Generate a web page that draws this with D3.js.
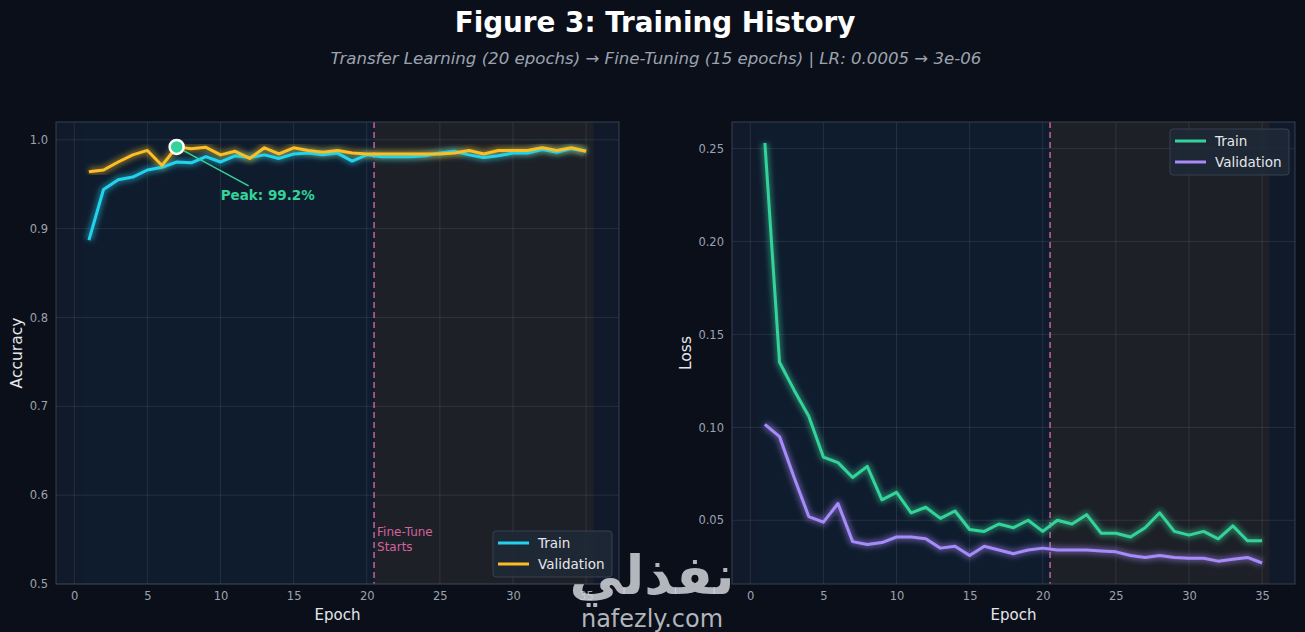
<!DOCTYPE html>
<html><head><meta charset="utf-8">
<script src="https://cdn.jsdelivr.net/npm/d3@7/dist/d3.min.js"></script>
<style>
html,body{margin:0;padding:0;background:#0b0f19;}
svg{display:block;font-family:"DejaVu Sans",sans-serif;}
</style></head>
<body>
<svg id="chart" width="1305" height="632"></svg>
<script>
// ---------- DATA ----------
const epochs = d3.range(1, 36);
const trainAcc = [0.887,0.944,0.955,0.958,0.966,0.969,0.975,0.974,0.981,0.975,
                  0.982,0.980,0.983,0.979,0.984,0.985,0.983,0.985,0.976,0.983,
                  0.981,0.981,0.981,0.982,0.985,0.987,0.983,0.980,0.982,0.985,
                  0.985,0.989,0.986,0.990,0.987];
const valAcc   = [0.964,0.966,0.975,0.983,0.988,0.971,0.992,0.990,0.9915,0.983,
                  0.987,0.979,0.991,0.984,0.991,0.988,0.986,0.988,0.985,0.984,
                  0.984,0.984,0.984,0.984,0.984,0.985,0.988,0.984,0.988,0.988,
                  0.988,0.991,0.988,0.991,0.987];
const trainLoss = [0.253,0.135,0.120,0.106,0.084,0.081,0.073,0.079,0.061,0.065,
                   0.054,0.057,0.051,0.055,0.045,0.044,0.048,0.046,0.050,0.044,
                   0.050,0.048,0.053,0.043,0.043,0.041,0.046,0.054,0.044,0.042,
                   0.044,0.040,0.047,0.039,0.039];
const valLoss   = [0.1016,0.095,0.073,0.052,0.049,0.059,0.0385,0.037,0.038,0.041,
                   0.041,0.040,0.035,0.036,0.031,0.036,0.034,0.032,0.034,0.035,
                   0.034,0.034,0.034,0.0335,0.033,0.031,0.030,0.031,0.030,0.0296,
                   0.0296,0.028,0.029,0.030,0.027];
const xTicks = [0,5,10,15,20,25,30,35];
const accTicks = [0.5,0.6,0.7,0.8,0.9,1.0];
const lossTicks = [0.05,0.10,0.15,0.20,0.25];
const fineTuneAt = 20.5;
const titleText = "Figure 3: Training History";
const subtitleText = "Transfer Learning (20 epochs) \u2192 Fine-Tuning (15 epochs) | LR: 0.0005 \u2192 3e-06";
const seriesNames = ["Train","Validation"];
const accColors = ["#22d3ee","#fbbf24"];
const lossColors = ["#34d399","#a78bfa"];

// ---------- SETUP ----------
const svg = d3.select("#chart");
const W = 1305, H = 632;
svg.append("rect").attr("width",W).attr("height",H).attr("fill","#0b0f19");

const defs = svg.append("defs");
const glow = defs.append("filter").attr("id","glow").attr("x","-10%").attr("y","-10%").attr("width","120%").attr("height","120%");
glow.append("feGaussianBlur").attr("stdDeviation",2.5);

svg.append("text").attr("x",655).attr("y",32).attr("text-anchor","middle")
  .attr("fill","#ffffff").attr("font-weight","bold").attr("font-size",27.8).text(titleText);
svg.append("text").attr("x",656).attr("y",64).attr("text-anchor","middle")
  .attr("fill","#9ca3af").attr("font-style","italic").attr("font-size",16.6).text(subtitleText);

function panel(cfg){
  const {x0,x1,y0,y1} = cfg;
  const g = svg.append("g");
  const x = d3.scaleLinear().domain([-1.25,37.25]).range([x0,x1]);
  const y = d3.scaleLinear().domain(cfg.yDomain).range([y1,y0]);
  const clipId = "clip"+cfg.id;
  defs.append("clipPath").attr("id",clipId).append("rect")
    .attr("x",x0).attr("y",y0).attr("width",x1-x0).attr("height",y1-y0);
  // face
  g.append("rect").attr("x",x0).attr("y",y0).attr("width",x1-x0).attr("height",y1-y0).attr("fill","#111a2a");
  // spans
  g.append("rect").attr("x",x(0.5)).attr("y",y0).attr("width",x(fineTuneAt)-x(0.5)).attr("height",y1-y0)
    .attr("fill","#0f1c2e");
  g.append("rect").attr("x",x(fineTuneAt)).attr("y",y0).attr("width",x(35.5)-x(fineTuneAt)).attr("height",y1-y0)
    .attr("fill","#1d2027");
  // grid
  const grid = g.append("g").attr("stroke","#ffffff").attr("stroke-opacity",0.09).attr("stroke-width",1);
  xTicks.forEach(t=>grid.append("line").attr("x1",x(t)).attr("x2",x(t)).attr("y1",y0).attr("y2",y1));
  cfg.yTicks.forEach(t=>grid.append("line").attr("x1",x0).attr("x2",x1).attr("y1",y(t)).attr("y2",y(t)));
  // axes
  const xa = g.append("g").attr("transform",`translate(0,${y1})`)
    .call(d3.axisBottom(x).tickValues(xTicks).tickSize(0).tickPadding(8).tickFormat(d3.format("d")));
  const ya = g.append("g").attr("transform",`translate(${x0},0)`)
    .call(d3.axisLeft(y).tickValues(cfg.yTicks).tickSize(0).tickPadding(8).tickFormat(cfg.fmt));
  [xa,ya].forEach(a=>{a.select(".domain").remove();
    a.selectAll("text").attr("fill","#9ca3af").attr("font-size",11.5).attr("font-family","DejaVu Sans");});
  // dashed line
  g.append("line").attr("x1",x(fineTuneAt)).attr("x2",x(fineTuneAt)).attr("y1",y0).attr("y2",y1)
    .attr("stroke","#f472b6").attr("stroke-opacity",0.75).attr("stroke-width",1.6).attr("stroke-dasharray","6,4");
  // lines
  const plot = g.append("g").attr("clip-path",`url(#${clipId})`);
  const line = d3.line().x((d,i)=>x(epochs[i])).y(d=>y(d));
  cfg.series.forEach((s,i)=>{
    plot.append("path").datum(s).attr("d",line).attr("fill","none").attr("stroke",cfg.colors[i])
      .attr("stroke-width",8).attr("stroke-opacity",0.4).attr("stroke-linejoin","round").attr("filter","url(#glow)");
  });
  cfg.series.forEach((s,i)=>{
    plot.append("path").datum(s).attr("d",line).attr("fill","none").attr("stroke",cfg.colors[i])
      .attr("stroke-width",3).attr("stroke-linejoin","round");
  });
  // frame
  g.append("rect").attr("x",x0).attr("y",y0).attr("width",x1-x0).attr("height",y1-y0)
    .attr("fill","none").attr("stroke","#374151").attr("stroke-width",1);
  // axis labels
  g.append("text").attr("x",(x0+x1)/2).attr("y",620).attr("text-anchor","middle")
    .attr("fill","#e5e7eb").attr("font-size",15).text("Epoch");
  g.append("text").attr("transform",`translate(${cfg.ylabX},${(y0+y1)/2}) rotate(-90)`).attr("text-anchor","middle")
    .attr("fill","#e5e7eb").attr("font-size",15.5).text(cfg.ylabel);
  // legend
  const lg = g.append("g").attr("transform",`translate(${cfg.legX},${cfg.legY})`);
  lg.append("rect").attr("width",119).attr("height",46).attr("rx",3)
    .attr("fill","#1f2937").attr("fill-opacity",0.85).attr("stroke","#374151");
  seriesNames.forEach((n,i)=>{
    lg.append("line").attr("x1",5).attr("x2",36).attr("y1",12+i*21).attr("y2",12+i*21)
      .attr("stroke",cfg.colors[i]).attr("stroke-width",3);
    lg.append("text").attr("x",45).attr("y",17+i*21).attr("fill","#e5e7eb").attr("font-size",13.5).text(n);
  });
  return {g,x,y};
}

const left = panel({id:"L",x0:56,x1:619,y0:122,y1:584,yDomain:[0.5,1.02],yTicks:accTicks,
  fmt:d3.format(".1f"),series:[trainAcc,valAcc],colors:accColors,ylabel:"Accuracy",ylabX:22,legX:493,legY:531});
const lossExt = d3.extent(trainLoss.concat(valLoss));
const pad = (lossExt[1]-lossExt[0])*0.05;
const right = panel({id:"R",x0:732,x1:1295,y0:122,y1:584,yDomain:[lossExt[0]-pad,lossExt[1]+pad],yTicks:lossTicks,
  fmt:d3.format(".2f"),series:[trainLoss,valLoss],colors:lossColors,ylabel:"Loss",ylabX:691,legX:1170,legY:129});

// fine-tune annotation
left.g.append("text").attr("x",left.x(fineTuneAt)+3).attr("y",536).attr("fill","#f472b6").attr("fill-opacity",0.85)
  .attr("font-size",12).text("Fine-Tune");
left.g.append("text").attr("x",left.x(fineTuneAt)+3).attr("y",551).attr("fill","#f472b6").attr("fill-opacity",0.85)
  .attr("font-size",12).text("Starts");

// peak annotation
const peakIdx = d3.maxIndex(valAcc);
const px = left.x(epochs[peakIdx]), py = left.y(valAcc[peakIdx]);
left.g.append("line").attr("x1",px).attr("y1",py).attr("x2",px+72).attr("y2",py+39)
  .attr("stroke","#34d399").attr("stroke-width",1.5);
left.g.append("circle").attr("cx",px).attr("cy",py).attr("r",7).attr("fill","#34d399")
  .attr("stroke","#ffffff").attr("stroke-width",2.5);
left.g.append("text").attr("x",px+44).attr("y",py+53).attr("fill","#34d399").attr("font-weight","bold")
  .attr("font-size",13.5).text("Peak: " + (valAcc[peakIdx]*100).toFixed(1) + "%");

// watermark
svg.append("text").attr("x",652).attr("y",594).attr("text-anchor","middle").attr("fill","#d1d5db").attr("fill-opacity",0.85)
  .attr("font-weight","bold").attr("font-size",54).attr("font-family","Noto Sans, DejaVu Sans").text("نفذلي");
svg.append("text").attr("x",652).attr("y",627).attr("text-anchor","middle").attr("fill","#d1d5db").attr("fill-opacity",0.85)
  .attr("font-size",24).text("nafezly.com");
</script>
</body></html>
